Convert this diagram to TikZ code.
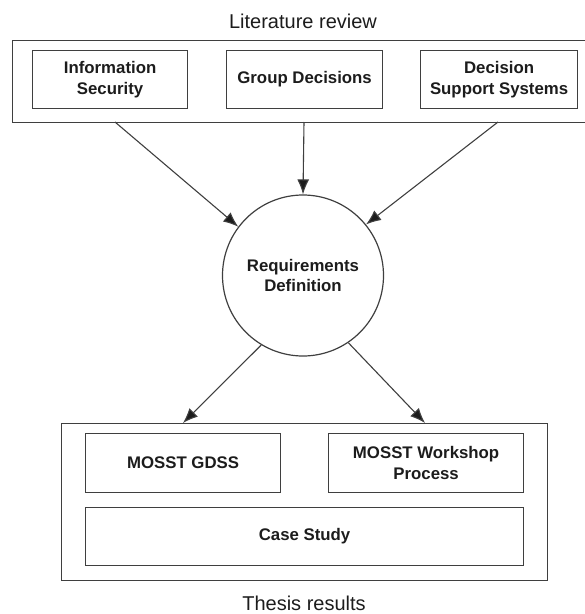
\documentclass[tikz,border=0pt]{standalone}
\usepackage{fontspec}
\setmainfont{Liberation Sans}
\usetikzlibrary{arrows.meta}
\definecolor{edge}{HTML}{3F3F3F}
\definecolor{ink}{HTML}{1C1C1C}
\begin{document}
\begin{tikzpicture}[x=1pt,y=-1pt,
  frame/.style={draw=edge,line width=1.2pt,inner sep=0pt,anchor=north west},
  item/.style={frame,text=ink,align=center,
    font=\fontsize{16.8}{20.5}\selectfont\bfseries},
  caption/.style={text=ink,anchor=base,inner sep=0pt,
    font=\fontsize{20}{24}\selectfont},
  arr/.style={draw=edge,line width=1.1pt,
    -{Latex[length=15pt,width=12pt,fill=ink]}}]
\useasboundingbox (0,0) rectangle (585,614);

% literature review group
\node[caption] (littitle) at (303,28) {Literature review};
\node[frame,minimum width=575pt,minimum height=82pt] (lit) at (12,40) {};
\node[item,minimum width=155pt,minimum height=58pt] (infosec) at (32,50)
  {Information\\Security};
\node[item,minimum width=156pt,minimum height=58pt] (group) at (226,50)
  {Group Decisions};
\node[item,minimum width=157pt,minimum height=58pt] (dss) at (420,50)
  {Decision\\Support Systems};

% requirements
\node[draw=edge,line width=1.2pt,circle,minimum size=161pt,inner sep=0pt,
  text=ink,align=center,font=\fontsize{16.8}{20.5}\selectfont\bfseries]
  (req) at (303,275.5) {Requirements\\Definition};

% thesis results group
\node[frame,minimum width=486pt,minimum height=157pt] (res) at (61,423) {};
\node[item,minimum width=195pt,minimum height=59pt] (gdss) at (85,433)
  {MOSST GDSS};
\node[item,minimum width=195pt,minimum height=59pt] (workshop) at (328,433)
  {MOSST Workshop\\Process};
\node[item,minimum width=438pt,minimum height=58pt] (case) at (85,507)
  {Case Study};
\node[caption] (restitle) at (304,610) {Thesis results};

% connector ends on the group frames
\coordinate (litA) at (115,122);
\coordinate (litB) at (304,122);
\coordinate (litC) at (498,122);
\coordinate (resA) at (183,423);
\coordinate (resB) at (425,423);

\draw[arr] (litA) -- (req.143);
\draw[arr] (litB) -- (req.north);
\draw[arr] (litC) -- (req.39);
\draw[arr] (req.239) -- (resA);
\draw[arr] (req.304) -- (resB);
\end{tikzpicture}
\end{document}
